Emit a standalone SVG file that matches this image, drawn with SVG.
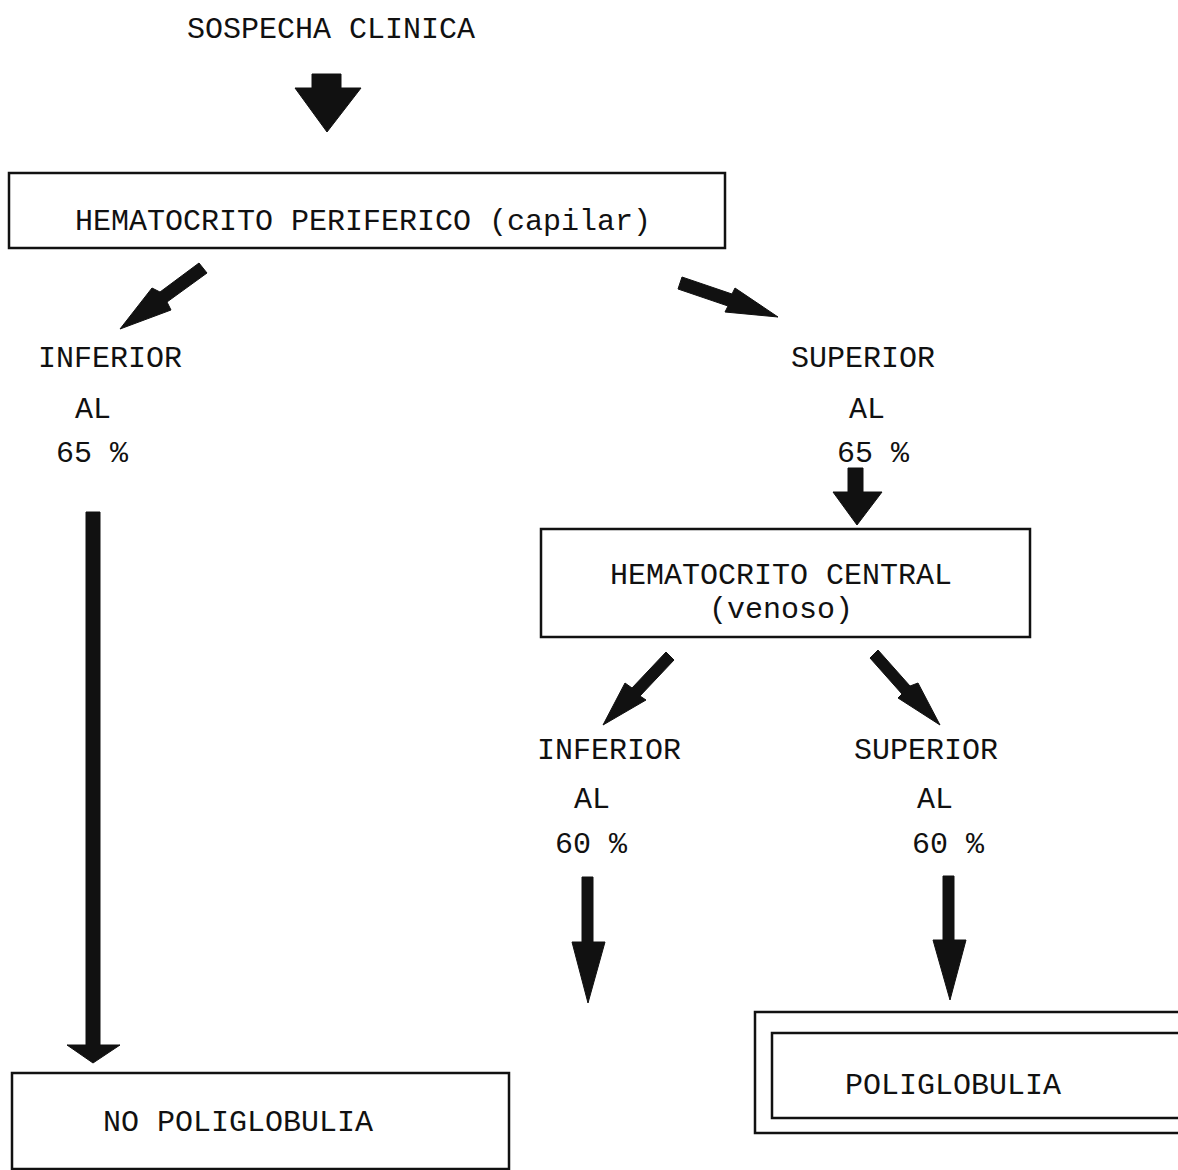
<svg xmlns="http://www.w3.org/2000/svg" width="1178" height="1170" viewBox="0 0 1178 1170">
  <style>
    .t { font-family: "Liberation Mono", "DejaVu Sans Mono", monospace; font-size: 30px; fill: #111; }
    .box { fill: none; stroke: #111; stroke-width: 2.5; }
    .arr { fill: #111; stroke: #111; stroke-width: 1; stroke-linejoin: round; }
  </style>
  <rect width="1178" height="1170" fill="#fff"/>

  <!-- start label -->
  <g id="start">
    <text class="t" x="187" y="38">SOSPECHA CLINICA</text>
  </g>

  <!-- process boxes -->
  <g id="peripheral">
    <rect class="box" x="9" y="173" width="716" height="75"/>
    <text class="t" x="75" y="230">HEMATOCRITO PERIFERICO (capilar)</text>
  </g>

  <g id="low65">
    <text class="t" x="38" y="367">INFERIOR</text>
    <text class="t" x="75" y="418">AL</text>
    <text class="t" x="56" y="462">65 %</text>
  </g>

  <g id="high65">
    <text class="t" x="791" y="367">SUPERIOR</text>
    <text class="t" x="849" y="418">AL</text>
    <text class="t" x="837" y="462">65 %</text>
  </g>

  <g id="central">
    <rect class="box" x="541" y="529" width="489" height="108"/>
    <text class="t" x="610" y="584">HEMATOCRITO CENTRAL</text>
    <text class="t" x="709" y="618">(venoso)</text>
  </g>

  <g id="low60">
    <text class="t" x="537" y="759">INFERIOR</text>
    <text class="t" x="574" y="808">AL</text>
    <text class="t" x="555" y="853">60 %</text>
  </g>

  <g id="high60">
    <text class="t" x="854" y="759">SUPERIOR</text>
    <text class="t" x="917" y="808">AL</text>
    <text class="t" x="912" y="853">60 %</text>
  </g>

  <g id="no-poliglobulia">
    <rect class="box" x="12" y="1073" width="497" height="96"/>
    <text class="t" x="103" y="1131">NO POLIGLOBULIA</text>
  </g>

  <g id="poliglobulia">
    <rect class="box" x="755" y="1012" width="440" height="121"/>
    <rect class="box" x="772" y="1033" width="420" height="85"/>
    <text class="t" x="845" y="1094">POLIGLOBULIA</text>
  </g>

  <!-- block arrows -->
  <g id="connectors">
    <!-- start to peripheral -->
    <polygon class="arr" points="312,74 341,74 341,88 361,88 327,132 295,88 312,88"/>
    <!-- peripheral to low 65 -->
    <polygon class="arr" points="199,263 207,273 167,302 171,310 120,329 152,288 160,292"/>
    <!-- peripheral to high 65 -->
    <polygon class="arr" points="682,277 732,294 735,288 778,317 725,312 728,306 678,289"/>
    <!-- high 65 to central -->
    <polygon class="arr" points="848,468 863,468 863,492 882,492 857,525 833,492 848,492"/>
    <!-- low 65 to no poliglobulia -->
    <polygon class="arr" points="86,512 100,512 100,1045 120,1045 93,1063 67,1045 86,1045"/>
    <!-- central to low 60 -->
    <polygon class="arr" points="666,652 674,660 640,696 646,700 603,725 625,683 632,688"/>
    <!-- central to high 60 -->
    <polygon class="arr" points="878,650 910,686 918,683 940,725 898,698 902,694 870,658"/>
    <!-- low 60 outcome -->
    <polygon class="arr" points="582,877 593,877 593,942 605,942 588,1003 572,942 582,942"/>
    <!-- high 60 to poliglobulia -->
    <polygon class="arr" points="943,876 954,876 954,940 966,940 950,1000 933,940 943,940"/>
  </g>
</svg>
